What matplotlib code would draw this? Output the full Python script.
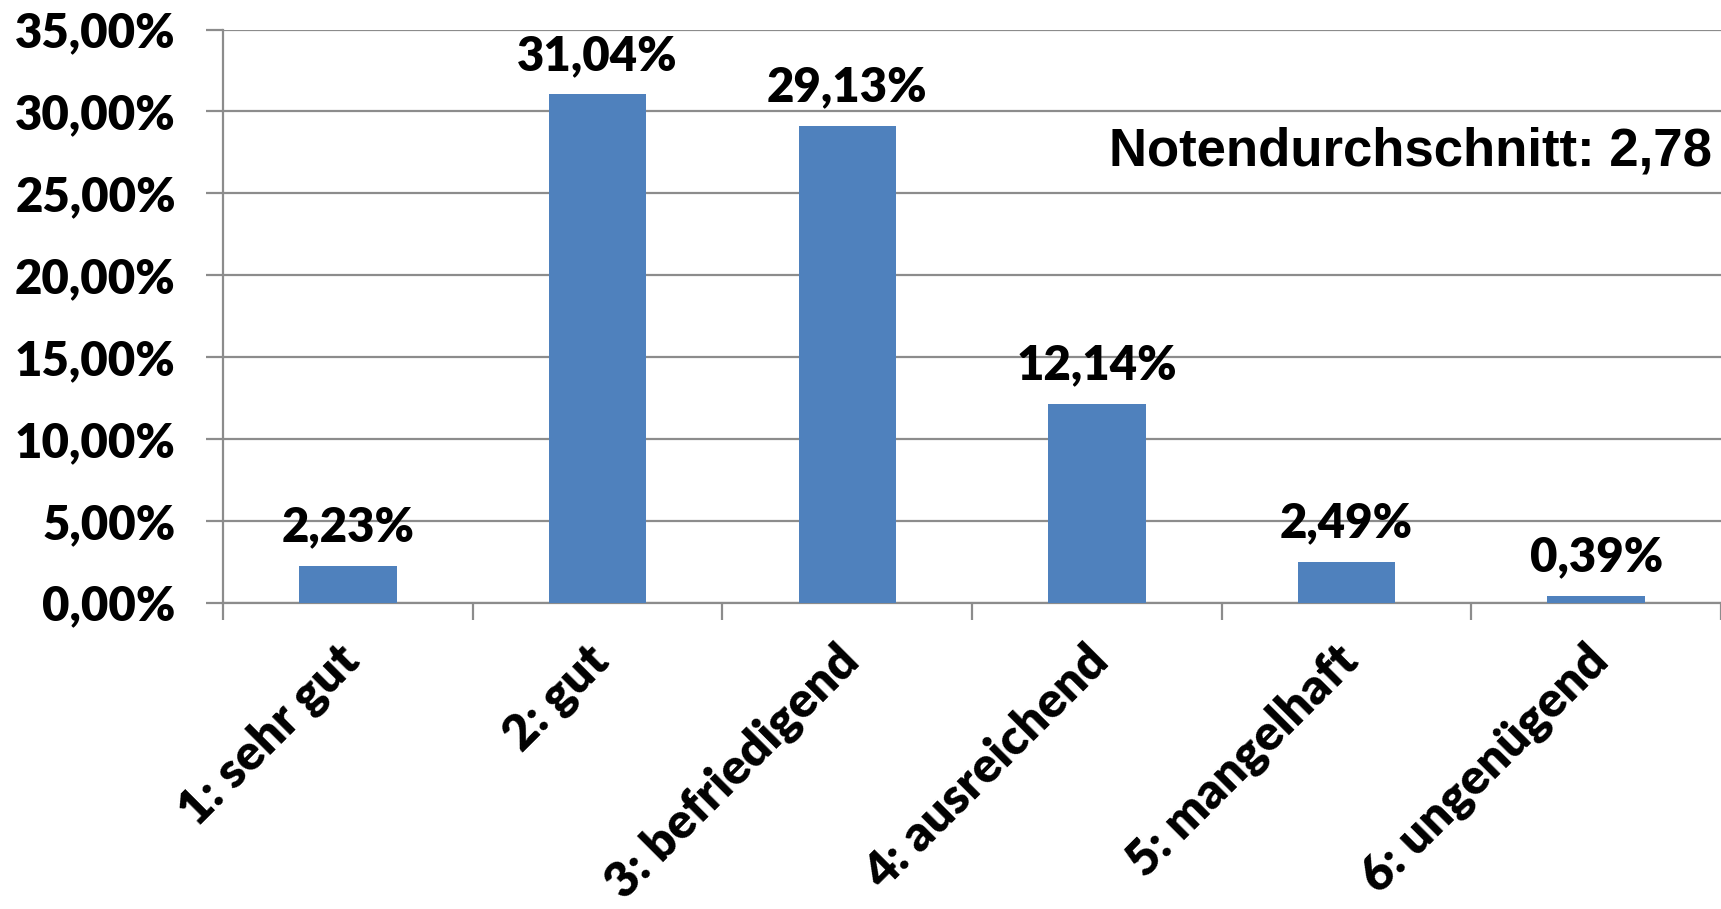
import matplotlib.pyplot as plt
from matplotlib.ticker import FixedLocator, FuncFormatter
from matplotlib.transforms import ScaledTranslation

# Notenverteilung
categories = ["1: sehr gut", "2: gut", "3: befriedigend", "4: ausreichend", "5: mangelhaft", "6: ungenügend"]
values = [2.23, 31.04, 29.13, 12.14, 2.49, 0.39]
y_ticks = [0, 5, 10, 15, 20, 25, 30, 35]
average_text = "Notendurchschnitt: 2,78"

bar_color = "#4F81BD"
grid_color = "#8C8C8C"

plt.rcParams['font.family'] = ['Lato', 'DejaVu Sans']
plt.rcParams['font.weight'] = 'heavy'

fig = plt.figure(figsize=(17.21, 9.09), dpi=100)
ax = fig.add_axes([0.1296, 0.337, 0.8704, 0.6304])

x = list(range(len(categories)))
ax.bar(x, values, width=0.39, color=bar_color, zorder=3)

# Datenbeschriftungen
for xi, v in zip(x, values):
    ax.annotate(f"{v:.2f}%".replace('.', ','), (xi, v), xytext=(0, 12), textcoords='offset points',
                ha='center', va='bottom', fontsize=34, fontweight='heavy')

ax.set_xlim(-0.5, len(categories) - 0.5)
ax.set_ylim(0, 35)

ax.set_yticks(y_ticks)
ax.yaxis.set_major_formatter(FuncFormatter(lambda v, p: f"{v:.2f}%".replace('.', ',')))
ax.grid(axis='y', color=grid_color, linewidth=1.6, zorder=0)
ax.tick_params(axis='y', length=12, width=1.6, color=grid_color, labelsize=34, pad=22)

# Kategorien mittig, Striche zwischen den Kategorien
ax.set_xticks(x)
ax.set_xticklabels(categories, rotation=45, ha='right', va='top', rotation_mode='anchor', fontsize=35.5)
ax.xaxis.set_minor_locator(FixedLocator([i - 0.5 for i in range(len(categories) + 1)]))
ax.tick_params(axis='x', which='major', length=0, pad=25)
ax.tick_params(axis='x', which='minor', length=12, width=1.6, color=grid_color)
shift = ScaledTranslation(-0.12, 0, fig.dpi_scale_trans)
for lbl in ax.get_xticklabels():
    lbl.set_transform(lbl.get_transform() + shift)

for s in ['top', 'right']:
    ax.spines[s].set_visible(False)
for s in ['left', 'bottom']:
    ax.spines[s].set_color(grid_color)
    ax.spines[s].set_linewidth(1.6)

ax.text(0.994, 0.787, average_text, transform=ax.transAxes, ha='right', va='center',
        fontsize=38, fontweight='bold', family='Liberation Sans')

fig.savefig('out.png', dpi=100)
